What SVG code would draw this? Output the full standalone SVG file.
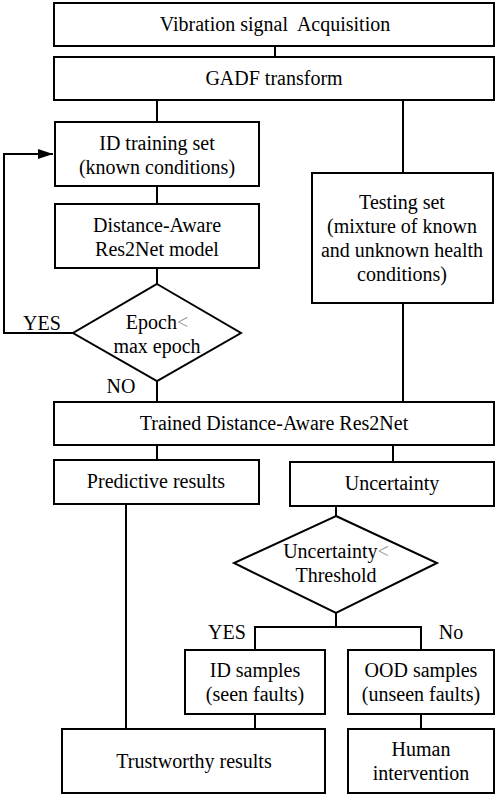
<svg xmlns="http://www.w3.org/2000/svg" width="498" height="797" viewBox="0 0 498 797" font-family="Liberation Serif, Times New Roman, DejaVu Serif, serif">
<style>
.n{fill:#fff;stroke:#000;stroke-width:2}
.c{fill:none;stroke:#000;stroke-width:2}
text{font-size:20px;fill:#000;text-anchor:middle}
.lt{fill:#999}
</style>
<defs>
<marker id="ah" markerWidth="15" markerHeight="10" refX="15" refY="5" orient="auto" markerUnits="userSpaceOnUse">
<path d="M0,0 L15,5 L0,10 Z" fill="#000"/>
</marker>
</defs>
<rect width="498" height="797" fill="#fff"/>
<g id="connectors">
<line class="c" x1="275" y1="46" x2="275" y2="57"/>
<line class="c" x1="157" y1="100" x2="157" y2="122"/>
<line class="c" x1="403" y1="100" x2="403" y2="173"/>
<line class="c" x1="157" y1="186" x2="157" y2="204"/>
<line class="c" x1="157" y1="268" x2="157" y2="284"/>
<polyline class="c" points="73,333 4,333 4,154 53,154" marker-end="url(#ah)"/>
<line class="c" x1="157" y1="381" x2="157" y2="402"/>
<line class="c" x1="403" y1="303" x2="403" y2="402"/>
<line class="c" x1="157" y1="445" x2="157" y2="460"/>
<line class="c" x1="393" y1="445" x2="393" y2="462"/>
<line class="c" x1="336" y1="506" x2="336" y2="516"/>
<line class="c" x1="126" y1="504" x2="126" y2="729"/>
<polyline class="c" points="255,650 255,627 421,627 421,650"/>
<line class="c" x1="336" y1="613" x2="336" y2="627"/>
<line class="c" x1="255" y1="714" x2="255" y2="729"/>
<line class="c" x1="421" y1="714" x2="421" y2="729"/>
<text x="42" y="330">YES</text>
<text x="121" y="393">NO</text>
<text x="227" y="639">YES</text>
<text x="451" y="639">No</text>
</g>
<g id="acquisition">
<rect class="n" x="54" y="3" width="440" height="43"/>
<text x="275" y="31" xml:space="preserve">Vibration signal  Acquisition</text>
</g>
<g id="gadf">
<rect class="n" x="54" y="57" width="440" height="43"/>
<text x="274" y="85">GADF transform</text>
</g>
<g id="training">
<rect class="n" x="55" y="122" width="204" height="64"/>
<text x="157" y="150">ID training set</text>
<text x="157" y="174">(known conditions)</text>
</g>
<g id="model">
<rect class="n" x="55" y="204" width="204" height="64"/>
<text x="157" y="232">Distance-Aware</text>
<text x="157" y="256">Res2Net model</text>
</g>
<g id="epoch">
<polygon class="n" points="157,284 241,333 157,381 73,333"/>
<text x="157" y="329">Epoch<tspan class="lt">&lt;</tspan></text>
<text x="157" y="353">max epoch</text>
</g>
<g id="testing">
<rect class="n" x="312" y="173" width="181" height="130"/>
<text x="402" y="209">Testing set</text>
<text x="402" y="233"> (mixture of known</text>
<text x="402" y="257">and unknown health</text>
<text x="402" y="281">conditions)</text>
</g>
<g id="trained">
<rect class="n" x="54" y="402" width="440" height="43"/>
<text x="274" y="430">Trained Distance-Aware Res2Net</text>
</g>
<g id="predictive">
<rect class="n" x="54" y="460" width="205" height="44"/>
<text x="156" y="488">Predictive results</text>
</g>
<g id="uncertainty">
<rect class="n" x="290" y="462" width="204" height="44"/>
<text x="392" y="490">Uncertainty</text>
</g>
<g id="threshold">
<polygon class="n" points="336,516 437,563 336,613 234,563"/>
<text x="336" y="558">Uncertainty<tspan class="lt">&lt;</tspan></text>
<text x="336" y="582">Threshold</text>
</g>
<g id="id-samples">
<rect class="n" x="185" y="650" width="140" height="64"/>
<text x="255" y="677">ID samples</text>
<text x="255" y="701">(seen faults)</text>
</g>
<g id="ood-samples">
<rect class="n" x="348" y="650" width="146" height="64"/>
<text x="421" y="677">OOD samples</text>
<text x="421" y="701">(unseen faults)</text>
</g>
<g id="trustworthy">
<rect class="n" x="62" y="729" width="263" height="64"/>
<text x="194" y="768">Trustworthy results</text>
</g>
<g id="human">
<rect class="n" x="348" y="729" width="146" height="64"/>
<text x="421" y="756">Human</text>
<text x="421" y="780">intervention</text>
</g>
</svg>
